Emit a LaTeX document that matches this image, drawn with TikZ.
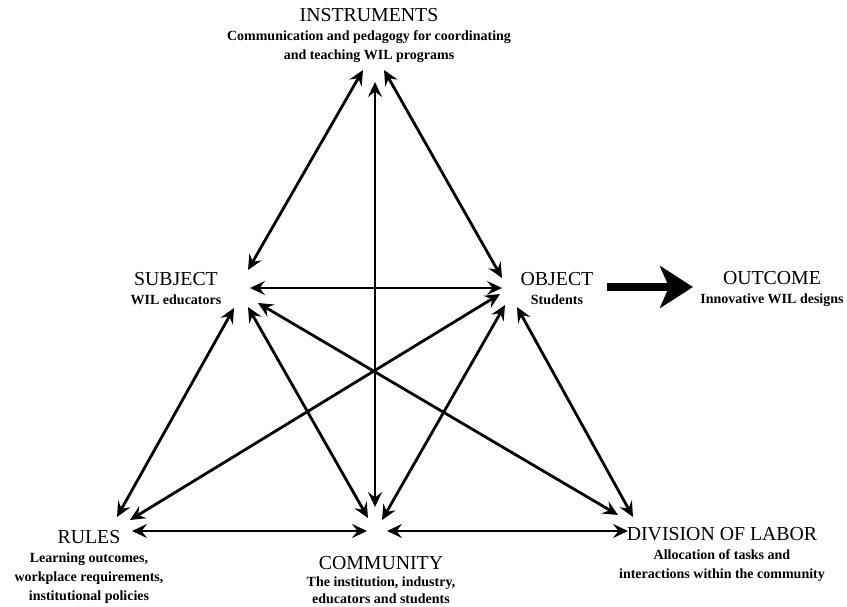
\documentclass[tikz,border=0pt]{standalone}
\usepackage{fontspec}
\setmainfont{Liberation Serif}
\usepackage{tikz}
\usetikzlibrary {arrows.meta,
                 positioning}
\tikzset{
        ttl/.style={font=\fontsize{19.8}{22}\selectfont, inner sep=0pt},
        txt/.style={font=\bfseries\fontsize{14}{19}\selectfont, align=center,
                    inner sep=0pt},
        myarrow/.style={{Stealth[length=15pt, width=14pt, inset=5.5pt]}-{Stealth[length=15pt, width=14pt, inset=5.5pt]},
                        line width=2.8pt},
        bigarrow/.style={-{Stealth[length=33pt, width=42pt, inset=9pt]}, line width=8pt},
 }

\begin{document}
\begin{tikzpicture}[x=1pt, y=-1pt]
    \useasboundingbox (0,0) rectangle (847,607);

    \node[ttl] (ins) at (369,15) {INSTRUMENTS};
    \node[txt, below=9pt of ins] (ins-txt) {Communication and pedagogy for coordinating\\and teaching WIL programs};
    \node[ttl] (sub) at (176,279) {SUBJECT};
    \node[txt, below=9pt of sub] (sub-txt) {WIL educators};
    \node[ttl] (obj) at (557,279) {OBJECT};
    \node[txt, below=9pt of obj] (obj-txt) {Students};
    \node[ttl] (out) at (772,278) {OUTCOME};
    \node[txt, below=9pt of out] (out-txt) {Innovative WIL designs};
    \node[ttl] (rul) at (89,537) {RULES};
    \node[txt, below=9pt of rul] (rul-txt) {Learning outcomes,\\workplace requirements,\\institutional policies};
    \node[ttl] (com) at (381,563) {COMMUNITY};
    \node[txt, below=7pt of com, font=\bfseries\fontsize{14}{17}\selectfont] (com-txt) {The institution, industry,\\educators and students};
    \node[ttl] (div) at (722,534) {DIVISION OF LABOR};
    \node[txt, below=9pt of div] (div-txt) {Allocation of tasks and\\interactions within the community};

    \coordinate (ins-sub) at (363,70);
    \coordinate (ins-com) at (375,82);
    \coordinate (ins-obj) at (384,70);
    \coordinate (sub-ins) at (248,270);
    \coordinate (sub-obj) at (250,288);
    \coordinate (sub-rul) at (234,308);
    \coordinate (sub-com) at (248,307);
    \coordinate (sub-div) at (258,303);
    \coordinate (obj-ins) at (502,278);
    \coordinate (obj-sub) at (502,288);
    \coordinate (obj-rul) at (500,294);
    \coordinate (obj-com) at (505,305);
    \coordinate (obj-div) at (517,307);
    \coordinate (rul-sub) at (117,517);
    \coordinate (rul-obj) at (130,520);
    \coordinate (rul-com) at (132,531);
    \coordinate (com-ins) at (375,507);
    \coordinate (com-sub) at (368,518);
    \coordinate (com-obj) at (382,520);
    \coordinate (com-rul) at (367,531);
    \coordinate (com-div) at (387,531);
    \coordinate (div-sub) at (618,515);
    \coordinate (div-obj) at (633,517);
    \coordinate (div-com) at (628,531);
    \coordinate (out-a) at (607,287);
    \coordinate (out-b) at (693,287);

    \draw[myarrow] (ins-sub) -- (sub-ins);
    \draw[myarrow] (ins-com) -- (com-ins);
    \draw[myarrow] (ins-obj) -- (obj-ins);
    \draw[myarrow] (sub-obj) -- (obj-sub);
    \draw[myarrow] (sub-rul) -- (rul-sub);
    \draw[myarrow] (sub-com) -- (com-sub);
    \draw[myarrow] (sub-div) -- (div-sub);
    \draw[myarrow] (obj-rul) -- (rul-obj);
    \draw[myarrow] (obj-com) -- (com-obj);
    \draw[myarrow] (obj-div) -- (div-obj);
    \draw[myarrow] (rul-com) -- (com-rul);
    \draw[myarrow] (com-div) -- (div-com);
    \draw[bigarrow] (out-a) -- (out-b);

\end{tikzpicture}
\end{document}
